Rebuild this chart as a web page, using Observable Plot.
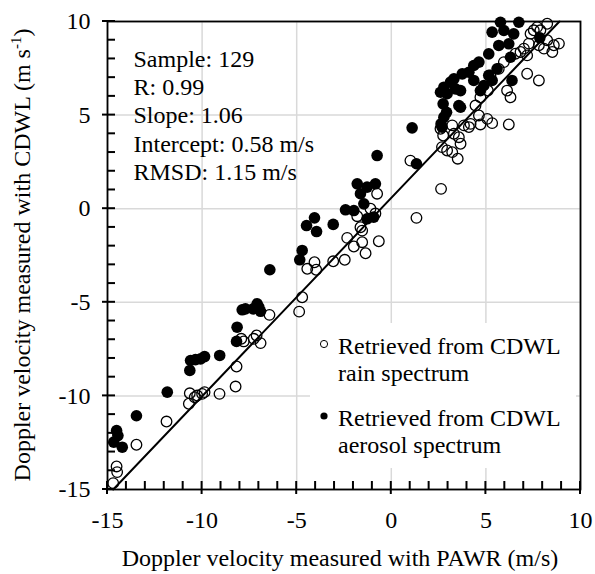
<!DOCTYPE html>
<html><head><meta charset="utf-8">
<script src="https://cdn.jsdelivr.net/npm/d3@7"></script>
<script src="https://cdn.jsdelivr.net/npm/@observablehq/plot@0.6"></script>
<style>
body{margin:0;background:#fff;font-family:"Liberation Serif","Times New Roman",serif;}
#wrap{position:relative;width:595px;height:574px;}
#legend{position:absolute;left:310px;top:323px;width:266px;height:145px;background:#fff;font-size:24px;line-height:27px;color:#000;}
.item{position:absolute;left:28px;white-space:nowrap;}
.mk{position:absolute;left:-19px;top:6px;}
</style></head><body><div id="wrap"></div>
<script>
// Retrieved from CDWL rain spectrum (open circles): [PAWR, CDWL]
const rain = [
[-14.70,-14.66],[-14.52,-13.77],[-14.49,-14.07],[-13.47,-12.61],[-11.88,-11.37],[-10.70,-10.42],
[-10.65,-9.86],[-10.39,-10.07],[-10.26,-9.98],[-10.00,-9.89],[-9.87,-9.80],[-9.08,-9.89],
[-8.23,-9.50],[-8.18,-8.43],[-7.93,-6.95],[-7.80,-7.09],[-7.12,-6.77],[-7.27,-6.95],[-6.91,-7.18],
[-6.44,-5.67],[-4.87,-5.50],[-4.71,-4.73],[-4.06,-2.86],[-4.44,-3.21],[-3.97,-3.26],[-3.07,-2.81],
[-2.46,-2.73],[-1.80,-0.40],[-1.63,-0.99],[-1.54,-1.17],[-2.33,-1.56],[-1.98,-2.02],[-1.54,-1.79],
[-1.36,-2.38],[-0.66,-1.74],[-1.10,0.00],[-0.84,-0.26],[-0.75,0.80],[1.33,-0.49],[1.01,2.57],
[2.63,1.06],[2.60,4.27],[2.74,3.91],[3.22,4.45],[3.31,4.00],[3.57,3.82],[3.66,3.47],[3.84,4.45],
[4.10,4.36],[4.19,4.53],[4.45,5.51],[4.63,4.98],[5.07,4.80],[5.33,4.57],[4.71,4.50],[6.21,4.50],
[2.68,3.29],[2.95,3.11],[3.22,3.02],[3.51,2.67],[8.24,9.88],[7.71,9.70],[7.53,9.53],[7.36,9.35],
[7.88,9.53],[8.24,9.00],[8.59,8.73],[8.86,8.82],[8.51,8.37],[8.07,8.55],[7.80,8.73],[7.27,8.82],
[7.01,8.55],[6.83,8.37],[6.56,8.28],[7.18,8.19],[5.95,7.83],[5.68,7.47],[5.24,7.12],[7.18,7.21],
[7.80,6.85],[6.12,6.31],[6.30,5.95],[5.10,6.31],[4.71,5.95]
];
// Retrieved from CDWL aerosol spectrum (filled circles): [PAWR, CDWL]
const aerosol = [
[-14.52,-11.85],[-14.45,-12.12],[-14.67,-12.47],[-14.22,-12.74],[-13.47,-11.06],[-11.84,-9.80],
[-10.61,-8.11],[-10.35,-8.06],[-10.08,-8.02],[-9.87,-7.90],[-10.65,-8.64],[-9.07,-7.84],
[-8.15,-6.33],[-8.18,-7.09],[-7.88,-5.40],[-7.71,-5.35],[-7.09,-5.08],[-7.00,-5.26],[-7.30,-5.35],
[-6.91,-5.48],[-6.42,-3.26],[-4.71,-2.23],[-4.84,-2.73],[-4.06,-0.49],[-4.48,-0.90],[-3.95,-1.22],
[-3.07,-0.84],[-2.42,-0.06],[-1.98,-0.10],[-1.63,0.80],[-1.45,0.26],[-1.80,1.33],[-1.28,1.15],
[-0.84,1.33],[-1.28,-0.54],[-0.93,-0.45],[-0.75,2.84],[1.10,4.32],[1.33,2.40],[2.74,5.60],
[2.92,5.15],[3.57,5.51],[3.66,5.42],[2.63,4.53],[2.68,4.35],[2.78,4.89],[4.63,7.83],[4.36,7.65],
[4.10,7.29],[3.75,7.20],[3.31,6.94],[3.13,6.76],[2.78,6.49],[2.60,6.22],[2.95,6.14],[3.39,6.40],
[3.66,6.31],[4.36,6.85],[5.15,7.12],[5.33,6.85],[4.89,6.58],[4.71,6.31],[6.38,6.85],[7.85,9.13],
[5.77,9.96],[6.74,9.96],[5.33,9.43],[5.95,9.52],[6.47,9.34],[5.68,8.72],[6.21,8.81],[6.30,8.09],
[5.15,8.27],[5.59,7.47]
];
const majorTicks = [-15, -10, -5, 0, 5, 10];
const minorTicks = [-15,-14,-13,-12,-11,-10,-9,-8,-7,-6,-5,-4,-3,-2,-1,0,1,2,3,4,5,6,7,8,9,10];
const stats = ["Sample: 129", "R: 0.99", "Slope: 1.06", "Intercept: 0.58 m/s", "RMSD: 1.15 m/s"];
const fit = {slope: 1.06, intercept: 0.58};
const legendItems = [
  {lines: ["Retrieved from CDWL", "rain spectrum"], filled: false},
  {lines: ["Retrieved from CDWL", "aerosol spectrum"], filled: true}
];
const xTitle = "Doppler velocity measured with PAWR (m/s)";
const yTitle = ["Doppler velocity measured with CDWL (m s", "-1", ")"];

const W = 595, H = 574, mL = 107, mR = 15, mT = 21, mB = 85;
const domain = [-15, 10];
const fitLine = domain.map(y => ({x: (y - fit.intercept) / fit.slope, y}));

const chart = Plot.plot({
  width: W, height: H,
  marginLeft: mL, marginRight: mR, marginTop: mT, marginBottom: mB,
  style: {fontFamily: "'Liberation Serif','Times New Roman',serif", fontSize: "24px", color: "#000", background: "#fff"},
  x: {domain, label: null},
  y: {domain, label: null},
  marks: [
    Plot.gridX(majorTicks, {stroke: "#d9d9d9", strokeOpacity: 1, strokeWidth: 1.5}),
    Plot.gridY(majorTicks, {stroke: "#d9d9d9", strokeOpacity: 1, strokeWidth: 1.5}),
    Plot.line(fitLine, {x: "x", y: "y", stroke: "#000", strokeWidth: 2}),
    Plot.dot(rain, {x: d => d[0], y: d => d[1], r: 5.3, stroke: "#000", strokeWidth: 1.3, fill: "none"}),
    Plot.dot(aerosol, {x: d => d[0], y: d => d[1], r: 5.8, fill: "#000", stroke: "none"}),
    Plot.axisX(majorTicks, {tickSize: 0, tickPadding: 21, tickFormat: d => String(d), fontSize: 24}),
    Plot.axisY(majorTicks, {tickSize: 0, tickPadding: 17, tickFormat: d => String(d), fontSize: 24}),
    Plot.frame({stroke: "#000", strokeWidth: 1.8}),
    Plot.text([stats.join("\n")], {frameAnchor: "top-left", dx: 26, dy: 25, lineAnchor: "top", textAnchor: "start", lineHeight: 1.18, fontSize: 24, fill: "#000"})
  ]
});

const wrap = document.getElementById("wrap");
wrap.appendChild(chart);
const svg = d3.select(chart);
const xs = chart.scale("x"), ys = chart.scale("y");
const sx = d3.scaleLinear(xs.domain, xs.range);
const sy = d3.scaleLinear(ys.domain, ys.range);
const x0 = sx(domain[0]), y0 = sy(domain[0]);
const tg = svg.append("g").attr("class", "minor-ticks");
minorTicks.forEach(t => {
  const major = majorTicks.includes(t);
  const px = sx(t), py = sy(t);
  tg.append("path")
    .attr("d", `M${px},${y0 + (major ? 5 : 0)}V${y0 - 8}`)
    .attr("stroke", "#000").attr("stroke-width", 2).attr("fill", "none");
  tg.append("path")
    .attr("d", `M${x0 - (major ? 5 : 0)},${py}H${x0 + 8}`)
    .attr("stroke", "#000").attr("stroke-width", 2).attr("fill", "none");
});
svg.append("text")
  .attr("x", 340).attr("y", 566)
  .attr("text-anchor", "middle")
  .attr("font-size", 24).attr("fill", "#000")
  .text(xTitle);
const yt = svg.append("text")
  .attr("transform", "translate(30,255) rotate(-90)")
  .attr("text-anchor", "middle")
  .attr("font-size", 24).attr("fill", "#000");
yt.append("tspan").text(yTitle[0]);
yt.append("tspan").attr("font-size", 15).attr("dy", -9).text(yTitle[1]);
yt.append("tspan").attr("dy", 9).text(yTitle[2]);

const legend = d3.select(wrap).append("div").attr("id", "legend");
legendItems.forEach((it, i) => {
  const item = legend.append("div").attr("class", "item").style("top", (10 + i * 72) + "px");
  const mk = item.append("svg").attr("class", "mk").attr("width", 10).attr("height", 10);
  mk.append("circle").attr("cx", 5).attr("cy", 5).attr("r", 3.6)
    .attr("fill", it.filled ? "#000" : "none").attr("stroke", "#000").attr("stroke-width", it.filled ? 0 : 1);
  item.append("div").html(it.lines.join("<br>"));
});
</script></body></html>
